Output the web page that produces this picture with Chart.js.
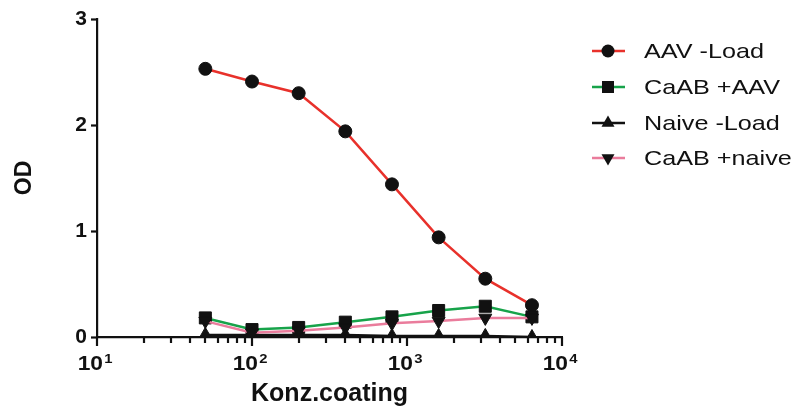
<!DOCTYPE html>
<html>
<head>
<meta charset="utf-8">
<script src="https://cdn.jsdelivr.net/npm/chart.js@4.4.1/dist/chart.umd.min.js"></script>
<style>
  html, body { margin: 0; padding: 0; background: #fff; }
  #wrap { width: 794px; height: 410px; }
</style>
</head>
<body>
<div id="wrap"><canvas id="chart" width="794" height="410"></canvas></div>
<script>
// concentrations (x)
const konz = [50, 100, 200, 400, 800, 1600, 3200, 6400];
// OD values per group
const aavLoad   = [2.53, 2.41, 2.30, 1.94, 1.44, 0.94, 0.55, 0.30];
const caabAAV   = [0.18, 0.07, 0.09, 0.14, 0.19, 0.25, 0.29, 0.19];
const naiveLoad = [0.02, 0.02, 0.02, 0.02, 0.01, 0.01, 0.01, 0.00];
const caabNaive = [0.15, 0.04, 0.06, 0.09, 0.13, 0.15, 0.18, 0.18];

const seriesNames = ["AAV -Load", "CaAB +AAV", "Naive -Load", "CaAB +naive"];
const xTickLabels = ["1", "2", "3", "4"];   // exponents of 10
const yTickValues = [0, 1, 2, 3];

function pts(vals) {
  return konz.map(function (x, i) { return { x: x, y: vals[i] }; });
}

const styles = [
  { color: "#e8312b", shape: "circle",   r: 6.5, rot: 0 },
  { color: "#17a34a", shape: "rect",     r: 8.5, rot: 0 },
  { color: "#111111", shape: "triangle", r: 7.5, rot: 0 },
  { color: "#ea7c9c", shape: "triangle", r: 7.5, rot: 180 }
];
const allData = [aavLoad, caabAAV, naiveLoad, caabNaive];

const datasets = [3, 2, 1, 0].map(function (i) {
  return {
    label: seriesNames[i],
    data: pts(allData[i]),
    borderColor: styles[i].color,
    borderWidth: 2.5,
    pointStyle: styles[i].shape,
    pointRadius: styles[i].r,
    pointRotation: styles[i].rot,
    pointBackgroundColor: "#111",
    pointBorderColor: "#111",
    pointBorderWidth: 1,
    tension: 0
  };
});

function marker(ctx, shape, x, y, r, rot) {
  ctx.save();
  ctx.fillStyle = "#111";
  ctx.beginPath();
  if (shape === "circle") {
    ctx.arc(x, y, r, 0, Math.PI * 2);
  } else if (shape === "rect") {
    const s = r * Math.SQRT1_2;
    ctx.rect(x - s, y - s, 2 * s, 2 * s);
  } else {
    const d = rot ? -1 : 1;
    ctx.moveTo(x, y - d * r);
    ctx.lineTo(x + r * 0.866, y + d * r * 0.5);
    ctx.lineTo(x - r * 0.866, y + d * r * 0.5);
    ctx.closePath();
  }
  ctx.fill();
  ctx.restore();
}

const extras = {
  id: "extras",
  afterDraw(chart) {
    const ctx = chart.ctx;
    const xs = chart.scales.x;
    const base = chart.chartArea.bottom;
    ctx.save();
    // log ticks on x
    ctx.strokeStyle = "#111";
    ctx.lineWidth = 2.2;
    for (let p = 1; p <= 4; p++) {
      for (let k = 1; k <= 9; k++) {
        const v = k * Math.pow(10, p);
        if (v > 10000) break;
        const px = Math.round(xs.getPixelForValue(v));
        const len = k === 1 ? 9 : 6;
        ctx.beginPath();
        ctx.moveTo(px, base);
        ctx.lineTo(px, base + len);
        ctx.stroke();
      }
    }
    // x labels 10^n
    ctx.fillStyle = "#111";
    ctx.textBaseline = "alphabetic";
    xTickLabels.forEach(function (e, i) {
      const px = xs.getPixelForValue(Math.pow(10, i + 1));
      ctx.font = "bold 20px Arial, 'Liberation Sans'";
      const w1 = ctx.measureText("10").width;
      ctx.font = "bold 13px Arial, 'Liberation Sans'";
      const w2 = ctx.measureText(e).width;
      const sx = 1.14;
      const left = px - 2 - (w1 + w2 + 1) * sx / 2;
      ctx.save();
      ctx.translate(left, 370);
      ctx.scale(sx, 1);
      ctx.font = "bold 20px Arial, 'Liberation Sans'";
      ctx.fillText("10", 0, 0);
      ctx.font = "bold 13px Arial, 'Liberation Sans'";
      ctx.fillText(e, w1 + 1, -7);
      ctx.restore();
    });
    // legend
    const rowY = [51, 87, 123, 158];
    seriesNames.forEach(function (name, i) {
      const y = rowY[i];
      ctx.strokeStyle = styles[i].color;
      ctx.lineWidth = 2.5;
      ctx.beginPath();
      ctx.moveTo(592, y);
      ctx.lineTo(625, y);
      ctx.stroke();
      marker(ctx, styles[i].shape, 608, y, styles[i].r, styles[i].rot);
      ctx.save();
      ctx.translate(644, y + 1);
      ctx.scale(1.2, 1);
      ctx.font = "21px Arial, 'Liberation Sans'";
      ctx.fillStyle = "#111";
      ctx.textBaseline = "middle";
      ctx.fillText(name, 0, 0);
      ctx.restore();
    });
    ctx.restore();
  }
};

new Chart(document.getElementById("chart"), {
  type: "line",
  data: { datasets: datasets },
  options: {
    responsive: false,
    animation: false,
    layout: { padding: { top: 19, right: 232, left: 0, bottom: 0 } },
    plugins: { legend: { display: false }, tooltip: { enabled: false } },
    scales: {
      x: {
        type: "logarithmic",
        min: 10,
        max: 10000,
        grid: { display: false },
        border: { display: true, color: "#111", width: 2.2 },
        ticks: { display: false },
        title: {
          display: true,
          text: "Konz.coating",
          color: "#111",
          font: { family: "Arial, 'Liberation Sans'", size: 25, weight: "bold" },
          padding: { top: 0, bottom: 1 }
        },
        afterFit: function (s) { s.height = 73; }
      },
      y: {
        min: 0,
        max: 3,
        afterBuildTicks: function (s) {
          s.ticks = yTickValues.map(function (v) { return { value: v }; });
        },
        grid: { drawOnChartArea: false, drawTicks: true, tickLength: 6, tickWidth: 2.2, tickColor: "#111" },
        border: { display: true, color: "#111", width: 2.2 },
        ticks: {
          color: "#111",
          padding: 4,
          font: { family: "Arial, 'Liberation Sans'", size: 21, weight: "bold" }
        },
        title: {
          display: true,
          text: "OD",
          color: "#111",
          font: { family: "Arial, 'Liberation Sans'", size: 23, weight: "bold" },
          padding: { top: 11, bottom: 0 }
        },
        afterFit: function (s) { s.width = 97; }
      }
    }
  },
  plugins: [extras]
});
</script>
</body>
</html>
